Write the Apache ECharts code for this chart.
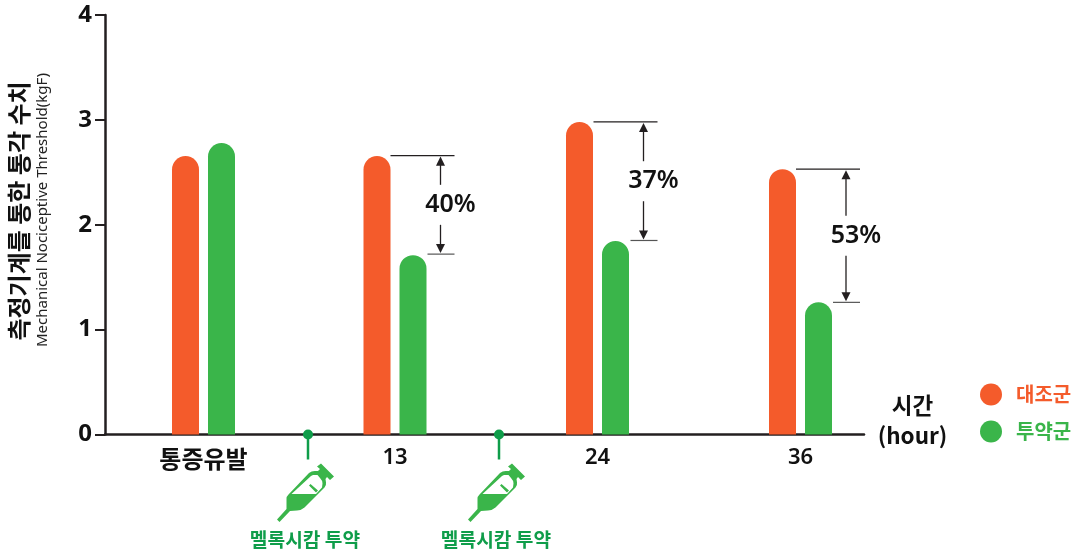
<!DOCTYPE html>
<html><head><meta charset="utf-8">
<style>html,body{margin:0;padding:0;background:#fff}#c{width:1077px;height:555px}</style>
<script src="https://cdn.jsdelivr.net/npm/echarts@6/dist/echarts.min.js"></script>
</head><body><div id="c"></div>
<script>
const categories = ['통증유발', '13', '24', '36'];
const controlValues = [2.655, 2.655, 2.98, 2.53];
const treatedValues = [2.78, 1.71, 1.845, 1.26];
const bracketTop = [2.66, 2.98, 2.53];
const bracketBottom = [1.72, 1.85, 1.26];
const bracketLabels = ['40%', '37%', '53%'];
const doseLabels = ['멜록시캄 투약', '멜록시캄 투약'];
const yTicks = [0, 1, 2, 3, 4];

// layout (pixels along the axis, measured from the y axis)
const groupPos = [98.5, 290, 492.5, 695.5];
const barOffset = 18;
const dosePos = [202, 393];
const bracketPos = [335.5, 538.5, 741];
const FONT = '"Noto Sans","Noto Sans CJK KR",sans-serif';
const KR = '"Noto Sans CJK KR","Noto Sans",sans-serif';
const ORANGE = '#F45B2B', GREEN = '#3AB54A', DGREEN = '#0F9D4A', INK = '#231F20';

const syringe = 'M7 64 L16.5 53.5 L16.5 43 Q16.5 41 18.5 39 L39 17.5 Q42 15 46 15.5 L48 15.5 L50 13.5 L47 11 L51 8 L64 21 L60 24.5 L57 21.5 L55.5 23.5 L56 27 Q56.5 30 54.5 32 L34.5 52 Q31 55 27 55 L20 55.5 L9.5 66.5 Z ' +
  'M21.5 38.5 L46 38.5 L52 32 L52.5 28 Q52.5 25 50 22.5 L47.5 19.5 L43 19.5 L41 20.5 Z ' +
  'M39 30 L40.5 28.5 L48 35 L46 37 Z';

const chart = echarts.init(document.getElementById('c'), null, {renderer: 'canvas'});
const pos = (i, d) => groupPos[i] + d;
chart.setOption({
  animation: false,
  backgroundColor: '#fff',
  grid: {left: 105, right: 213, top: 15, bottom: 120.5, containLabel: false},
  legend: {
    orient: 'vertical', left: 975, top: 378.5, itemWidth: 22, itemHeight: 22, itemGap: 15,
    icon: 'circle', data: ['대조군', '투약군'],
    textStyle: {color: 'inherit', fontFamily: KR, fontWeight: 700, fontSize: 20, padding: [0, 0, 0, 9]}
  },
  xAxis: {
    type: 'value', min: 0, max: 759,
    axisLine: {show: true, onZero: false, lineStyle: {color: INK, width: 2.5}},
    axisTick: {show: false},
    splitLine: {show: false},
    axisLabel: {
      show: true, customValues: groupPos, margin: 12, color: '#111',
      fontFamily: FONT, fontWeight: 600, fontSize: 22,
      formatter: v => { const i = groupPos.indexOf(v); return i === 0 ? '{kr|' + categories[i] + '}' : (categories[i] || ''); },
      rich: {kr: {fontFamily: KR, fontWeight: 700, fontSize: 24, color: '#111'}}
    }
  },
  yAxis: {
    type: 'value', min: 0, max: 4, interval: 1,
    axisLine: {show: true, lineStyle: {color: INK, width: 2.5}},
    axisTick: {show: true, length: 10, lineStyle: {color: INK, width: 2}},
    splitLine: {show: false},
    axisLabel: {margin: 13, color: '#111', fontFamily: FONT, fontWeight: 700, fontSize: 24, customValues: yTicks}
  },
  graphic: [
    {type: 'text', x: 19, y: 211, rotation: Math.PI / 2, style: {text: '측정기계를 통한 통각 수치', fontFamily: KR, fontWeight: 700, fontSize: 24, fill: '#111', align: 'center', verticalAlign: 'middle'}},
    {type: 'text', x: 43, y: 210, rotation: Math.PI / 2, style: {text: 'Mechanical Nociceptive Threshold(kgF)', fontFamily: FONT, fontSize: 15, fill: '#222', align: 'center', verticalAlign: 'middle'}},
    {type: 'text', x: 912.5, y: 420, style: {text: '시간\n(hour)', fontFamily: KR, fontWeight: 700, fontSize: 22.5, lineHeight: 30, fill: '#111', align: 'center', verticalAlign: 'middle'}}
  ],
  series: [
    {name: '대조군', type: 'bar', barWidth: 27, barGap: '-100%', color: ORANGE,
     itemStyle: {borderRadius: [13.5, 13.5, 0, 0]},
     data: controlValues.map((v, i) => [pos(i, -barOffset), v])},
    {name: '투약군', type: 'bar', barWidth: 27, barGap: '-100%', color: GREEN,
     itemStyle: {borderRadius: [13.5, 13.5, 0, 0]},
     data: treatedValues.map((v, i) => [pos(i, barOffset), v])},
    {type: 'custom', silent: true, clip: false, z: 5,
     data: bracketLabels.map((l, i) => [bracketPos[i], bracketTop[i], bracketBottom[i], l]),
     encode: {x: 0, y: [1, 2]},
     renderItem(p, api) {
       const [x, yT] = api.coord([api.value(0), api.value(1)]);
       const [, yB] = api.coord([api.value(0), api.value(2)]);
       const mid = (yT + yB) / 2;
       const gap = 20;
       const head = 13, hw = 4.5;
       const line = (x1, y1, x2, y2, c, w) => ({type: 'line', shape: {x1, y1, x2, y2}, style: {stroke: c, lineWidth: w}});
       const tri = (yTip, dir) => ({type: 'polygon', shape: {points: [[x, yTip], [x - hw, yTip + dir * head * .7], [x + hw, yTip + dir * head * .7]]}, style: {fill: INK}});
       return {type: 'group', children: [
         line(x - 50, yT, x + 14, yT, INK, 1.2),
         line(x - 13, yB, x + 14, yB, '#555', 1.2),
         line(x, yT + 6, x, mid - gap, INK, 1.3),
         line(x, mid + gap, x, yB - 6, INK, 1.3),
         tri(yT + 1, 1), tri(yB - 1, -1),
         {type: 'text', x: x + 10, y: mid, style: {text: api.value(3), fontFamily: FONT, fontWeight: 600, fontSize: 25, fill: '#111', align: 'center', verticalAlign: 'middle'}}
       ]};
     }},
    {type: 'custom', silent: true, clip: false, z: 6,
     data: dosePos.map((x, i) => [x, 0, doseLabels[i]]),
     encode: {x: 0, y: 1},
     renderItem(p, api) {
       const [x, y] = api.coord([api.value(0), 0]);
       return {type: 'group', children: [
         {type: 'line', shape: {x1: x + 1, y1: y, x2: x + 1, y2: y + 25}, style: {stroke: DGREEN, lineWidth: 2.5}},
         {type: 'circle', shape: {cx: x + 1, cy: y, r: 5}, style: {fill: DGREEN}},
         {type: 'path', shape: {pathData: syringe, layout: 'cover', x: x - 30, y: y + 29, width: 57, height: 58.5}, style: {fill: GREEN}},
         {type: 'text', x: x - 2, y: y + 105.5, style: {text: api.value(2), fontFamily: KR, fontWeight: 700, fontSize: 19.2, fill: DGREEN, align: 'center', verticalAlign: 'middle'}}
       ]};
     }}
  ]
});
</script></body></html>
